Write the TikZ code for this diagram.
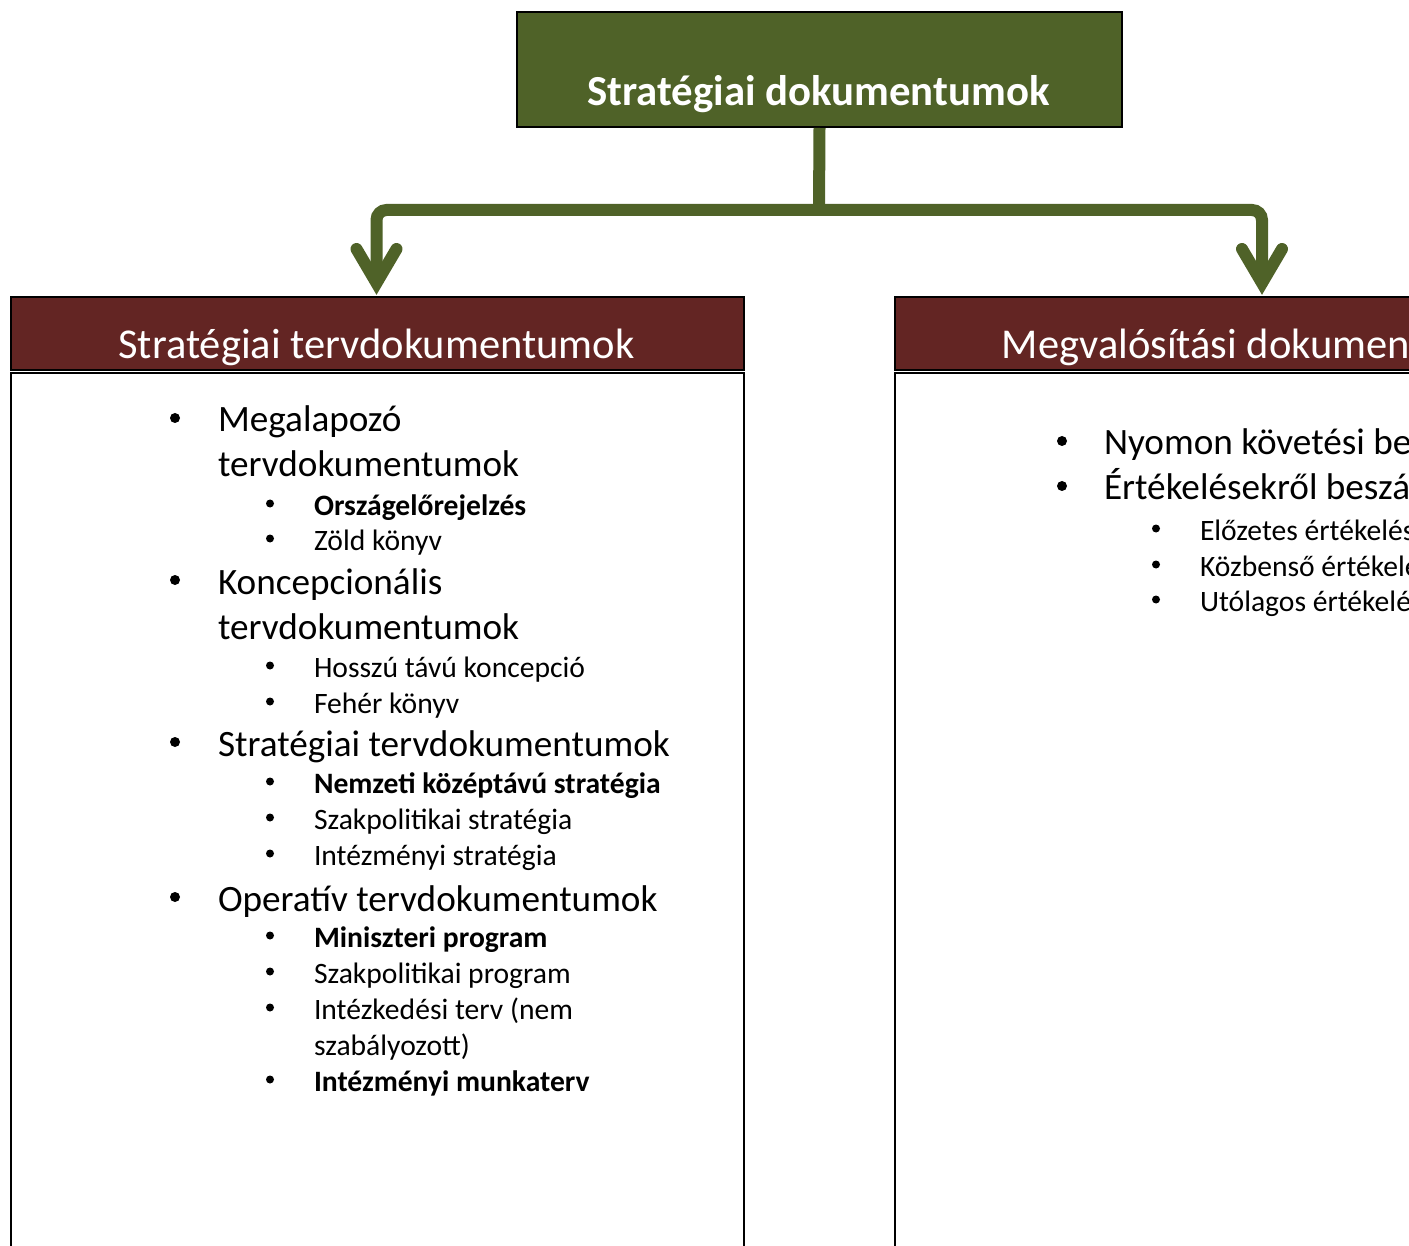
\documentclass[tikz,border=0pt]{standalone}
\usepackage{fontspec}
\setmainfont{Carlito}
\definecolor{oliveG}{RGB}{79,98,40}
\definecolor{wine}{RGB}{99,37,35}
\begin{document}
\begin{tikzpicture}[x=1pt,y=-1pt,
  lone/.style={anchor=base west,inner sep=0pt,outer sep=0pt,font=\fontsize{37.2}{44}\selectfont},
  ltwo/.style={anchor=base west,inner sep=0pt,outer sep=0pt,font=\fontsize{29.6}{35}\selectfont},
  bone/.style={circle,fill=black,inner sep=0pt,minimum size=10pt,yshift=14pt},
  btwo/.style={circle,fill=black,inner sep=0pt,minimum size=8pt,yshift=11.5pt},
  conn/.style={draw=oliveG,line width=12pt},
  hdr/.style={draw=black,line width=2pt,fill=wine,minimum width=733pt,minimum height=73pt,anchor=north west,inner sep=0pt},
  bodybox/.style={draw=black,line width=2pt,fill=white,minimum width=733pt,minimum height=950pt,anchor=north west,inner sep=0pt},
  hdrtext/.style={anchor=base,inner sep=0pt,text=white,font=\fontsize{42.5}{50}\selectfont}]
\useasboundingbox (0,0) rectangle (1409,1246);
\clip (0,0) rectangle (1409,1246);

% top box
\node[draw=black,line width=2pt,fill=oliveG,minimum width=605pt,minimum height=115pt,anchor=north west,inner sep=0pt] (top) at (516,11) {};
\node[anchor=base,inner sep=0pt,text=white,font=\fontsize{42.8}{50}\selectfont\bfseries] (toptext) at (818.5,106) {Stratégiai dokumentumok};

% boxes
\node[hdr] (lh) at (10,296) {};
\node[bodybox] (lb) at (10,372) {};
\node[hdr] (rh) at (894,296) {};
\node[bodybox] (rb) at (894,372) {};
\node[hdrtext] (lht) at (376.5,359) {Stratégiai tervdokumentumok};
\node[hdrtext] (rht) at (1262,359) {Megvalósítási dokumentumok};

% connectors
\coordinate (lv) at (376.5,283);
\coordinate (rv) at (1262,283);
\coordinate (hb) at (819,210);
\draw[conn] (top.south) -- (hb);
\draw[conn,rounded corners=10pt] (lv) -- (lv |- hb) -- (rv |- hb) -- (rv);
\draw[conn,line cap=round,line join=miter] ([shift={(-20,-34)}]lv) -- (lv) -- ([shift={(20,-34)}]lv);
\draw[conn,line cap=round,line join=miter] ([shift={(-20,-34)}]rv) -- (rv) -- ([shift={(20,-34)}]rv);

% left list
\node[bone] (b1) at (175,432) {};
\node[lone] (t1a) at (218,432) {Megalapozó};
\node[lone] (t1b) at (218,477) {tervdokumentumok};
\node[btwo] (b11) at (270,515) {};
\node[ltwo] (t11) at (314,515) {\bfseries Országelőrejelzés};
\node[btwo] (b12) at (270,550) {};
\node[ltwo] (t12) at (314,550) {Zöld könyv};
\node[bone] (b2) at (175,594) {};
\node[lone] (t2a) at (218,594) {Koncepcionális};
\node[lone] (t2b) at (218,639) {tervdokumentumok};
\node[btwo] (b21) at (270,677) {};
\node[ltwo] (t21) at (314,677) {Hosszú távú koncepció};
\node[btwo] (b22) at (270,713) {};
\node[ltwo] (t22) at (314,713) {Fehér könyv};
\node[bone] (b3) at (175,756) {};
\node[lone] (t3) at (218,756) {Stratégiai tervdokumentumok};
\node[btwo] (b31) at (270,793) {};
\node[ltwo] (t31) at (314,793) {\bfseries Nemzeti középtávú stratégia};
\node[btwo] (b32) at (270,829) {};
\node[ltwo] (t32) at (314,829) {Szakpolitikai stratégia};
\node[btwo] (b33) at (270,865) {};
\node[ltwo] (t33) at (314,865) {Intézményi stratégia};
\node[bone] (b4) at (175,911) {};
\node[lone] (t4) at (218,911) {Operatív tervdokumentumok};
\node[btwo] (b41) at (270,947) {};
\node[ltwo] (t41) at (314,947) {\bfseries Miniszteri program};
\node[btwo] (b42) at (270,983) {};
\node[ltwo] (t42) at (314,983) {Szakpolitikai program};
\node[btwo] (b43) at (270,1019) {};
\node[ltwo] (t43a) at (314,1019) {Intézkedési terv (nem};
\node[ltwo] (t43b) at (314,1055) {szabályozott)};
\node[btwo] (b44) at (270,1091) {};
\node[ltwo] (t44) at (314,1091) {\bfseries Intézményi munkaterv};

% right list
\node[bone] (r1) at (1062,455) {};
\node[lone] (rt1) at (1104,455) {Nyomon követési beszámolók};
\node[bone] (r2) at (1062,500) {};
\node[lone] (rt2) at (1104,500) {Értékelésekről beszámolók};
\node[btwo] (r21) at (1156,540) {};
\node[ltwo] (rt21) at (1200,540) {Előzetes értékelés};
\node[btwo] (r22) at (1156,576) {};
\node[ltwo] (rt22) at (1200,576) {Közbenső értékelés};
\node[btwo] (r23) at (1156,611) {};
\node[ltwo] (rt23) at (1200,611) {Utólagos értékelés};
\end{tikzpicture}
\end{document}
